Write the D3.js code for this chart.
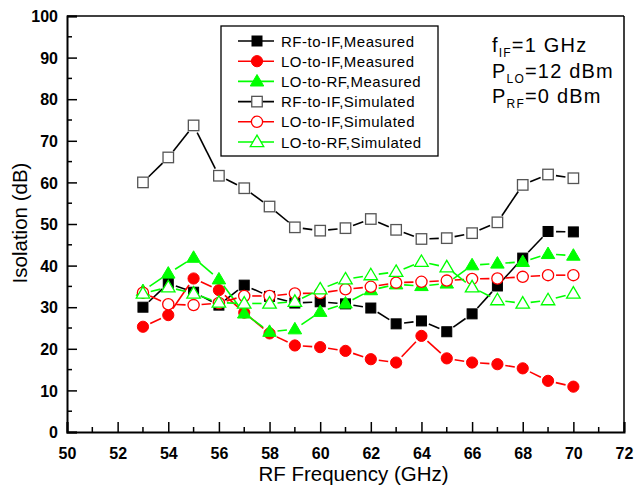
<!DOCTYPE html>
<html><head><meta charset="utf-8">
<script src="https://cdn.jsdelivr.net/npm/d3@7/dist/d3.min.js"></script>
<style>body{margin:0;background:#fff}svg{display:block}</style>
</head><body>
<script>
const freq = [53,54,55,56,57,58,59,60,61,62,63,64,65,66,67,68,69,70];
const rfIfMeas = [30.0,35.7,33.6,30.5,35.3,32.6,31.0,31.3,30.8,29.8,26.0,26.7,24.1,28.4,35.1,41.8,48.2,48.1];
const loIfMeas = [25.3,28.1,36.9,34.1,28.7,23.7,20.8,20.4,19.5,17.5,16.7,23.1,17.7,16.7,16.3,15.3,12.3,10.9];
const loRfMeas = [33.9,38.1,41.9,36.7,28.5,24.1,24.7,28.9,30.9,34.1,35.5,35.1,35.7,40.1,40.5,40.9,42.8,42.4];
const rfIfSim  = [60.0,66.0,73.7,61.6,58.6,54.2,49.2,48.4,49.0,51.2,48.6,46.4,46.6,47.8,50.4,59.4,61.9,61.0];
const loIfSim  = [33.5,30.7,30.5,31.0,32.7,32.7,33.3,33.4,34.3,34.9,35.9,36.1,36.4,36.8,36.9,37.3,37.7,37.7];
const loRfSim  = [33.3,34.8,33.3,31.1,30.9,30.9,31.3,34.3,36.7,37.7,38.5,40.9,39.6,34.8,31.7,30.9,31.7,33.3];
const xTicks = [50,52,54,56,58,60,62,64,66,68,70,72];
const yTicks = [0,10,20,30,40,50,60,70,80,90,100];
const seriesNames = ["RF-to-IF,Measured","LO-to-IF,Measured","LO-to-RF,Measured","RF-to-IF,Simulated","LO-to-IF,Simulated","LO-to-RF,Simulated"];

const W=636,H=489;
const L=67,R=624,T=16,B=432;
const svg=d3.select("body").append("svg").attr("width",W).attr("height",H);
const x=d3.scaleLinear().domain([50,72]).range([L,R]);
const y=d3.scaleLinear().domain([0,100]).range([B,T]);
const FONT="'Liberation Sans', Arial, sans-serif";
const GREEN="#00ff00";

const series=[
 {name:seriesNames[0],vals:rfIfMeas,color:"#000",shape:"square",filled:true},
 {name:seriesNames[1],vals:loIfMeas,color:"#ff0000",shape:"circle",filled:true},
 {name:seriesNames[2],vals:loRfMeas,color:GREEN,shape:"triangle",filled:true},
 {name:seriesNames[3],vals:rfIfSim,color:"#000",shape:"square",filled:false},
 {name:seriesNames[4],vals:loIfSim,color:"#ff0000",shape:"circle",filled:false},
 {name:seriesNames[5],vals:loRfSim,color:GREEN,shape:"triangle",filled:false}
];

function marker(g,shape,filled,color,cx,cy){
  const fill=filled?color:"#fff";
  const sw=filled?1:1.3;
  if(shape==="square"){
    const s=filled?10:10.5;
    g.append("rect").attr("x",cx-s/2).attr("y",cy-s/2).attr("width",s).attr("height",s)
     .attr("fill",fill).attr("stroke",filled?color:"#555").attr("stroke-width",sw);
  } else if(shape==="circle"){
    g.append("circle").attr("cx",cx).attr("cy",cy).attr("r",5.6).attr("fill",fill).attr("stroke",color).attr("stroke-width",sw);
  } else {
    const h=11.5,w=13.5;
    g.append("path").attr("d",`M${cx},${cy-h*0.6}L${cx+w/2},${cy+h*0.4}L${cx-w/2},${cy+h*0.4}Z`)
     .attr("fill",fill).attr("stroke",color).attr("stroke-width",sw).attr("stroke-linejoin","miter");
  }
}

series.forEach(s=>{
  const g=svg.append("g");
  const pts=freq.map((f,i)=>[x(f),y(s.vals[i])]);
  const gap=8;
  for(let i=0;i<pts.length-1;i++){
    const [x1,y1]=pts[i],[x2,y2]=pts[i+1];
    const dx=x2-x1,dy=y2-y1,len=Math.hypot(dx,dy);
    if(len<=2*gap+1) continue;
    const ux=dx/len,uy=dy/len;
    g.append("line").attr("x1",x1+ux*gap).attr("y1",y1+uy*gap).attr("x2",x2-ux*gap).attr("y2",y2-uy*gap)
     .attr("stroke",s.color).attr("stroke-width",1.6);
  }
  pts.forEach(p=>marker(g,s.shape,s.filled,s.color,p[0],p[1]));
});

svg.append("line").attr("x1",L).attr("x2",R).attr("y1",T).attr("y2",T).attr("stroke","#000").attr("stroke-width",1.5);
svg.append("line").attr("x1",R).attr("x2",R).attr("y1",T).attr("y2",B).attr("stroke","#000").attr("stroke-width",1.5);

const xAxis=d3.axisBottom(x).tickValues(xTicks).tickSize(-10).tickFormat(d3.format("d"));
const gx=svg.append("g").attr("transform",`translate(0,${B})`).call(xAxis);
gx.selectAll(".minor").data(d3.range(51,72,2)).enter().append("line").attr("x1",d=>x(d)).attr("x2",d=>x(d)).attr("y1",0).attr("y2",-5).attr("stroke","#000").attr("stroke-width",1.5);

const yAxis=d3.axisLeft(y).tickValues(yTicks).tickSize(-10).tickFormat(d3.format("d"));
const gy=svg.append("g").attr("transform",`translate(${L},0)`).call(yAxis);
gy.selectAll(".minor").data(d3.range(5,100,10)).enter().append("line").attr("x1",0).attr("x2",5).attr("y1",d=>y(d)).attr("y2",d=>y(d)).attr("stroke","#000").attr("stroke-width",1.5);

[gx,gy].forEach(g=>{
  g.select(".domain").attr("stroke-width",2);
  g.selectAll(".tick line").attr("stroke-width",1.5);
  g.selectAll(".tick text").attr("font-family",FONT).attr("font-weight","bold").attr("font-size",16).attr("fill","#000");
});
gx.selectAll(".tick text").attr("dy","0").attr("y",27);
gy.selectAll(".tick text").attr("x",-9).attr("dy","0.36em");

svg.append("text").attr("x",(L+R)/2+8).attr("y",481).attr("text-anchor","middle").attr("font-family",FONT).attr("font-size",20.5).text("RF Frequency (GHz)");
svg.append("text").attr("transform",`translate(27,223) rotate(-90)`).attr("text-anchor","middle").attr("font-family",FONT).attr("font-size",20.5).text("Isolation (dB)");

const lg=svg.append("g");
lg.append("rect").attr("x",221).attr("y",26).attr("width",217).attr("height",130).attr("fill","#fff").attr("stroke","#000").attr("stroke-width",1.3);
series.forEach((s,i)=>{
  const yy=41+i*20.2;
  lg.append("line").attr("x1",238).attr("x2",274).attr("y1",yy).attr("y2",yy).attr("stroke",s.color).attr("stroke-width",1.6);
  marker(lg,s.shape,s.filled,s.color,257,yy);
  lg.append("text").attr("x",281).attr("y",yy+5.5).attr("font-family",FONT).attr("font-size",15).attr("letter-spacing",0.5).text(s.name);
});

const ann=svg.append("g").attr("font-family",FONT).attr("font-size",20).attr("letter-spacing",1.2);
function annLine(yy,main,sub,rest){
  const t=ann.append("text").attr("x",492).attr("y",yy);
  t.append("tspan").text(main);
  t.append("tspan").attr("font-size",12).attr("dy",5).text(sub);
  t.append("tspan").attr("dy",-5).text(rest);
}
annLine(52,"f","IF","=1 GHz");
annLine(78,"P","LO","=12 dBm");
annLine(103,"P","RF","=0 dBm");
</script>
</body></html>
